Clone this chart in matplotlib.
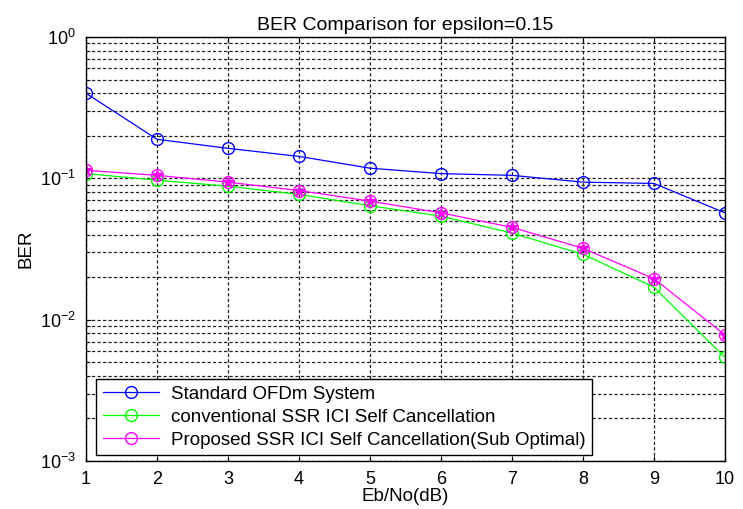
import numpy as np
import matplotlib
matplotlib.use("Agg")
import matplotlib.pyplot as plt
from matplotlib.ticker import LogLocator, NullFormatter

plt.rcParams['font.family'] = ['Liberation Sans', 'DejaVu Sans']

ebno = [1, 2, 3, 4, 5, 6, 7, 8, 9, 10]
ber_std = [0.40, 0.189, 0.163, 0.143, 0.118, 0.108, 0.105, 0.094, 0.092, 0.057]
ber_conv = [0.108, 0.097, 0.088, 0.077, 0.064, 0.054, 0.041, 0.029, 0.017, 0.0054]
ber_prop = [0.114, 0.105, 0.094, 0.082, 0.069, 0.057, 0.045, 0.032, 0.0195, 0.0078]

labels = ["Standard OFDm System",
          "conventional SSR ICI Self Cancellation",
          "Proposed SSR ICI Self Cancellation(Sub Optimal)"]

fig = plt.figure(figsize=(7.43, 5.09), dpi=100)
ax = fig.add_axes([0.1157, 0.0943, 0.86, 0.833])

ax.semilogy(ebno, ber_std, "o-", color="#0000ff", mfc="none", ms=8.5, lw=0.9, label=labels[0])
ax.semilogy(ebno, ber_conv, "o-", color="#00ff00", mfc="none", ms=8.5, lw=0.9, label=labels[1])
ax.semilogy(ebno, ber_prop, "o-", color="#ff00ff", mfc="none", ms=8.5, lw=0.9, label=labels[2])
# star markers drawn inside the magenta circles
ax.semilogy(ebno, ber_prop, "*", color="#ff00ff", ms=7, lw=0)

ax.set_xlim(1, 10)
ax.set_ylim(1e-3, 1)
ax.set_xticks(range(1, 11))
ax.yaxis.set_major_locator(LogLocator(base=10, numticks=10))
ax.yaxis.set_minor_locator(LogLocator(base=10, subs=np.arange(2, 10), numticks=20))
ax.yaxis.set_minor_formatter(NullFormatter())

ax.grid(True, which="both", color="#222222", linestyle=(0, (2.6, 1.8)), lw=0.9)
ax.tick_params(which="both", direction="in", top=True, right=True, labelsize=13)
ax.tick_params(which="major", pad=7)
ax.tick_params(which="minor", length=3)
for s in ax.spines.values():
    s.set_linewidth(1.0)

ax.set_title("BER Comparison for epsilon=0.15", fontsize=14, pad=5)
ax.set_xlabel("Eb/No(dB)", fontsize=13.5, labelpad=0)
ax.set_ylabel("BER", fontsize=13.5)

leg = ax.legend(loc="lower left", bbox_to_anchor=(0.0157, 0.014), fontsize=13.5,
                fancybox=False, framealpha=1, edgecolor="black",
                borderpad=0.35, labelspacing=0.3, handlelength=3.0, handletextpad=0.65,
                borderaxespad=0)
leg.get_frame().set_linewidth(1.0)

fig.savefig("out.png", dpi=100)
